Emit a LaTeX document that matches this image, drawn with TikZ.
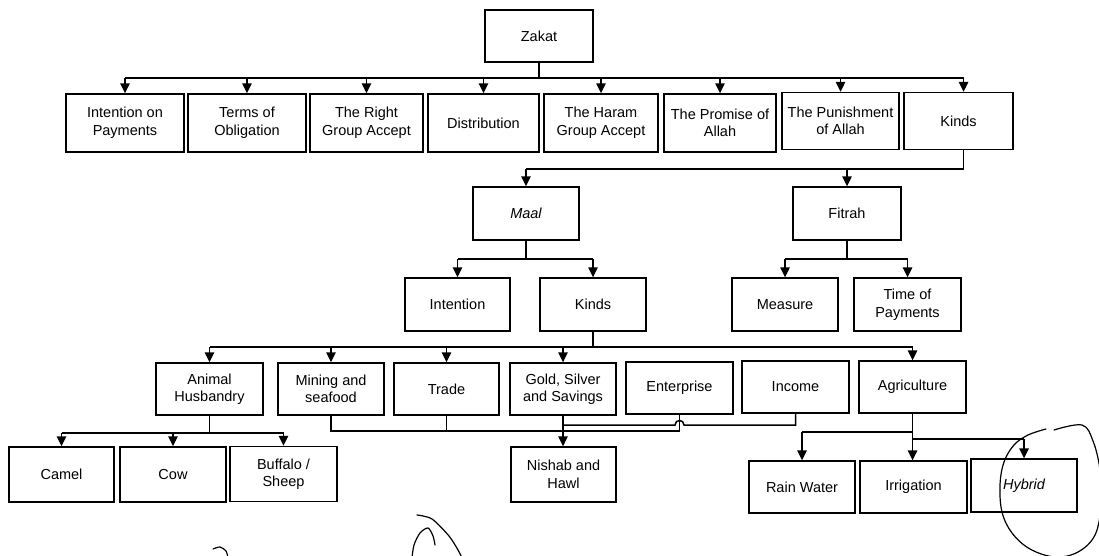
\documentclass[tikz,border=0pt]{standalone}
\usepackage{fontspec}
\setmainfont{Liberation Sans}
\usetikzlibrary{arrows.meta}
\begin{document}
\begin{tikzpicture}[x=1pt,y=-1pt,
  box/.style={draw, line width=1.4pt, align=center, inner sep=1pt,
    font=\fontsize{14.5}{17.5}\selectfont},
  wh/.style 2 args={minimum width=#1pt, minimum height=#2pt},
  conn/.style={line width=1.5pt},
  arr/.style={conn, -{Triangle[width=9.5pt,length=10pt]}},
  hand/.style={line width=1.2pt, line cap=round}]
\useasboundingbox (0,0) rectangle (1099,556);
% nodes
\node[box, wh={108}{52}] (zakat) at (539,36) {Zakat};
\node[box, wh={118}{58}] (ip) at (125,123) {Intention on\\Payments};
\node[box, wh={118}{58}] (to) at (247,123) {Terms of\\Obligation};
\node[box, wh={113}{58}] (rg) at (366.5,123) {The Right\\Group Accept};
\node[box, wh={111}{58}] (di) at (483.5,123) {Distribution};
\node[box, wh={114}{58}] (hg) at (601,123) {The Haram\\Group Accept};
\node[box, wh={112}{58}] (pa) at (720,123) {The Promise of\\Allah};
\node[box, wh={117}{57}] (pu) at (840.5,121) {The Punishment\\of Allah};
\node[box, wh={109}{57}] (ki) at (958.5,121) {Kinds};
\node[box, wh={106}{53}] (maal) at (526,213.5) {\itshape Maal};
\node[box, wh={108}{53}] (fitrah) at (847,213.5) {Fitrah};
\node[box, wh={105}{53}] (int) at (457.5,304.5) {Intention};
\node[box, wh={106}{53}] (kinds2) at (593,304.5) {Kinds};
\node[box, wh={106}{53}] (measure) at (785,304.5) {Measure};
\node[box, wh={107}{53}] (time) at (907.5,304.5) {Time of\\Payments};
\node[box, wh={107}{52}] (animal) at (209.5,389) {Animal\\Husbandry};
\node[box, wh={106}{52}] (mining) at (331,389) {Mining and\\seafood};
\node[box, wh={105}{52}] (trade) at (446.5,389) {Trade};
\node[box, wh={106}{52}] (gold) at (563,389) {Gold, Silver\\and Savings};
\node[box, wh={107}{52}] (ent) at (679.5,388) {Enterprise};
\node[box, wh={107}{52}] (inc) at (795.5,387) {Income};
\node[box, wh={107}{52}] (agri) at (912.5,387) {Agriculture};
\node[box, wh={105}{55}] (camel) at (61.5,474.5) {Camel};
\node[box, wh={106}{55}] (cow) at (173,474.5) {Cow};
\node[box, wh={107}{55}] (buffalo) at (283.5,474) {Buffalo /\\Sheep};
\node[box, wh={105}{55}] (nishab) at (563.5,474.5) {Nishab and\\Hawl};
\node[box, wh={106}{52}] (rain) at (802,487) {Rain Water};
\node[box, wh={107}{52}] (irr) at (913.5,487) {Irrigation};
\node[box, wh={106}{53}] (hyb) at (1024,485.5) {\itshape Hybrid};
% bus levels
\coordinate (b0) at (0,78);
\coordinate (b1) at (0,169);
\coordinate (b2) at (0,259);
\coordinate (b3) at (0,347);
\coordinate (b4) at (0,433);
\coordinate (m1) at (0,425);
\coordinate (m2) at (0,431);
\coordinate (a1) at (0,432);
\coordinate (a2) at (0,439);
\coordinate (kn) at ([xshift=5pt]ki.north);
\coordinate (ks) at ([xshift=5pt]ki.south);
% Zakat
\draw[conn] (zakat) -- (zakat |- b0);
\draw[conn] (ip |- b0) -- (kn |- b0);
\foreach \n in {ip,to,rg,di,hg,pa,pu} \draw[arr] (\n |- b0) -- (\n);
\draw[arr] (kn |- b0) -- (kn);
% Kinds
\draw[conn] (ks) -- (ks |- b1) -- (maal |- b1);
\draw[arr] (maal |- b1) -- (maal);
\draw[arr] (fitrah |- b1) -- (fitrah);
% Maal
\draw[conn] (maal) -- (maal |- b2);
\draw[conn] (int |- b2) -- (kinds2 |- b2);
\draw[arr] (int |- b2) -- (int);
\draw[arr] (kinds2 |- b2) -- (kinds2);
% Fitrah
\draw[conn] (fitrah) -- (fitrah |- b2);
\draw[conn] (measure |- b2) -- (time |- b2);
\draw[arr] (measure |- b2) -- (measure);
\draw[arr] (time |- b2) -- (time);
% Kinds of Maal
\draw[conn] (kinds2) -- (kinds2 |- b3);
\draw[conn] (animal |- b3) -- (agri |- b3);
\foreach \n in {animal,mining,trade,gold,agri} \draw[arr] (\n |- b3) -- (\n);
% Animal husbandry
\draw[conn] (animal) -- (animal |- b4);
\draw[conn] (camel |- b4) -- (buffalo |- b4);
\foreach \n in {camel,cow,buffalo} \draw[arr] (\n |- b4) -- (\n);
% merge to Nishab
\draw[conn] (mining) -- (mining |- m2) -- (gold |- m2);
\draw[conn] (trade) -- (trade |- m2);
\draw[conn] (ent) -- (ent |- m2) -- (gold |- m2);
\coordinate (hc) at (ent |- m1);
\draw[conn] (inc) -- (inc |- m1) -- ([xshift=4.5pt]hc)
  .. controls +(0,-6) and +(0,-6) .. ([xshift=-4.5pt]hc) -- (gold |- m1);
\draw[arr] (gold.south) -- (gold.south |- nishab.north);
% Agriculture
\draw[arr] (agri.south) -- (agri.south |- irr.north);
\draw[conn] (agri |- a1) -- (rain |- a1);
\draw[arr] (rain |- a1) -- (rain);
\draw[conn] (agri |- a2) -- (hyb |- a2);
\draw[arr] (hyb |- a2) -- (hyb);
% hand-drawn marks
\draw[hand] plot[smooth, tension=0.6] coordinates {(1054,430) (1082,425) (1093,441) (1100,470) (1101,505) (1095,535) (1078,552) (1055,557) (1030,549) (1012,533) (1002,512) (1000,485) (1004,462) (1014,445) (1028,435) (1046,429)};
\draw[hand] plot[smooth] coordinates {(417,515) (432,519) (449,536) (458,550) (462,558)};
\draw[hand] plot[smooth] coordinates {(412,558) (414,545) (420,533) (428,528) (433,536) (435,545)};
\draw[hand] plot[smooth] coordinates {(213,549) (220,547) (226,551) (228,558)};
\end{tikzpicture}
\end{document}
